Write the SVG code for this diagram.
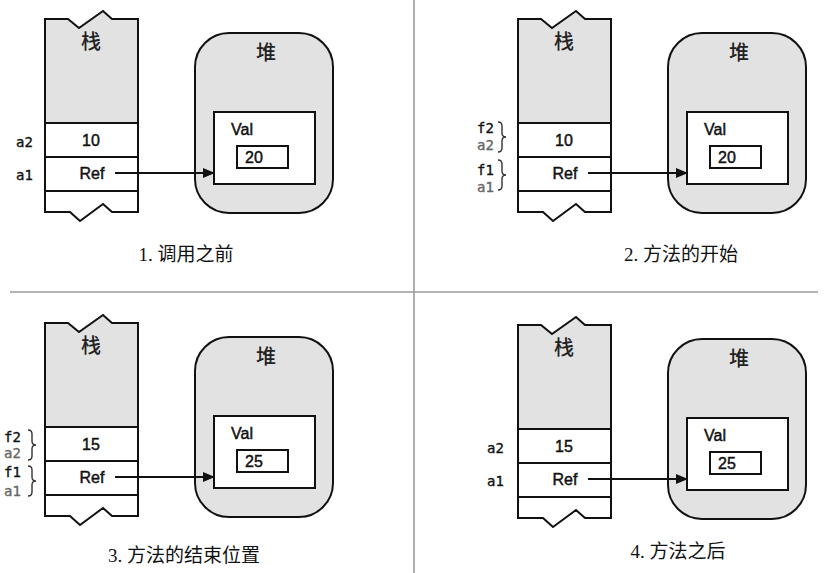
<svg xmlns="http://www.w3.org/2000/svg" xmlns:xlink="http://www.w3.org/1999/xlink" width="827" height="573" viewBox="0 0 827 573">
<style>
.ol{fill:none;stroke:#111;stroke-width:2;stroke-linejoin:miter}
.gray{fill:#e2e2e2}
.wh{fill:#fff}
.ln{stroke:#111;stroke-width:2}
.cjk{font-family:"Noto Sans CJK SC",sans-serif;font-size:20px;font-weight:500;fill:#222;text-anchor:middle}
.sans{font-family:"Liberation Sans",Arial,sans-serif;font-size:16px;fill:#111;stroke:#111;stroke-width:0.45}
.mid{text-anchor:middle}
.mono{font-family:"DejaVu Sans Mono","Liberation Mono",monospace;font-size:14px;fill:#111;stroke:#111;stroke-width:0.35}
.lite{fill:#666;stroke:#666}
.cap{font-family:"Liberation Serif","Noto Sans CJK SC",serif;font-size:19px;fill:#111;text-anchor:middle}
.brace{fill:none;stroke:#333;stroke-width:1.4}
.div{stroke:#9a9a9a;stroke-width:1.6}
.arr{stroke:#111;stroke-width:2;marker-end:url(#ah)}
</style>
<defs>
<marker id="ah" markerWidth="12" markerHeight="10" refX="11" refY="5" orient="auto" markerUnits="userSpaceOnUse">
<path d="M0,0 L12,5 L0,10 Z" fill="#111"/>
</marker>
<g id="stackShape">
<path class="gray" d="M45,19 H68 L79,28 L103,11 L112,19 H138 V123 H45 Z"/>
<path class="wh" d="M45,123 H138 V212 H112 L103,204 L80,221 L70,212 H45 Z"/>
<path class="ol" d="M45,19 H68 L79,28 L103,11 L112,19 H138 V212 H112 L103,204 L80,221 L70,212 H45 Z"/>
<line class="ln" x1="45" y1="123" x2="138" y2="123"/>
<line class="ln" x1="45" y1="157" x2="138" y2="157"/>
<line class="ln" x1="45" y1="191" x2="138" y2="191"/>
</g>
<g id="heapShape">
<rect x="195" y="33" width="138" height="180" rx="34" ry="34" class="gray" stroke="#111" stroke-width="2"/>
<rect x="214" y="112" width="101" height="72" class="wh" stroke="#111" stroke-width="2"/>
<rect x="237" y="146" width="51" height="22" class="wh" stroke="#111" stroke-width="2"/>
</g>
<path id="br" d="M0,0 q4,0 4,4 v7 q0,4 4,4 q-4,0 -4,4 v7 q0,4 -4,4"/>
</defs>

<g id="dividers">
<line class="div" x1="414" y1="0" x2="414" y2="573"/>
<line class="div" x1="10" y1="292" x2="818" y2="292"/>
</g>

<!-- Panel 1 -->
<g id="panel1">
<g id="p1-stack">
<use xlink:href="#stackShape"/>
<text class="cjk" x="91" y="49">栈</text>
<text class="sans mid" x="91" y="146">10</text>
<text class="sans mid" x="92" y="179">Ref</text>
<text class="mono" x="16" y="147">a2</text>
<text class="mono" x="16" y="180">a1</text>
</g>
<g id="p1-heap">
<use xlink:href="#heapShape"/>
<text class="cjk" x="266" y="60">堆</text>
<text class="sans" x="231" y="135">Val</text>
<text class="sans" x="245" y="163">20</text>
</g>
<text class="cap" x="186" y="261">1. 调用之前</text>
</g>

<!-- Panel 2 -->
<g id="panel2" transform="translate(473,0)">
<g id="p2-stack">
<use xlink:href="#stackShape"/>
<text class="cjk" x="91" y="49">栈</text>
<text class="sans mid" x="91" y="146">10</text>
<text class="sans mid" x="92" y="179">Ref</text>
<text class="mono" x="4" y="133">f2</text>
<text class="mono lite" x="4" y="150">a2</text>
<text class="mono" x="4" y="175">f1</text>
<text class="mono lite" x="4" y="192">a1</text>
<use xlink:href="#br" class="brace" x="25" y="122"/>
<use xlink:href="#br" class="brace" x="25" y="160"/>
</g>
<g id="p2-heap">
<use xlink:href="#heapShape"/>
<text class="cjk" x="266" y="60">堆</text>
<text class="sans" x="231" y="135">Val</text>
<text class="sans" x="245" y="163">20</text>
</g>
<text class="cap" x="208" y="261">2. 方法的开始</text>
</g>

<!-- Panel 3 -->
<g id="panel3" transform="translate(0,304)">
<g id="p3-stack">
<use xlink:href="#stackShape"/>
<text class="cjk" x="91" y="49">栈</text>
<text class="sans mid" x="91" y="146">15</text>
<text class="sans mid" x="92" y="179">Ref</text>
<text class="mono" x="4" y="138">f2</text>
<text class="mono lite" x="4" y="154">a2</text>
<text class="mono" x="4" y="173">f1</text>
<text class="mono lite" x="4" y="192">a1</text>
<use xlink:href="#br" class="brace" x="28" y="126"/>
<use xlink:href="#br" class="brace" x="28" y="162"/>
</g>
<g id="p3-heap">
<use xlink:href="#heapShape"/>
<text class="cjk" x="266" y="60">堆</text>
<text class="sans" x="231" y="135">Val</text>
<text class="sans" x="245" y="163">25</text>
</g>
<text class="cap" x="184" y="258">3. 方法的结束位置</text>
</g>

<!-- Panel 4 -->
<g id="panel4" transform="translate(473,306)">
<g id="p4-stack">
<use xlink:href="#stackShape"/>
<text class="cjk" x="91" y="49">栈</text>
<text class="sans mid" x="91" y="146">15</text>
<text class="sans mid" x="92" y="179">Ref</text>
<text class="mono" x="14" y="147">a2</text>
<text class="mono" x="14" y="180">a1</text>
</g>
<g id="p4-heap">
<use xlink:href="#heapShape"/>
<text class="cjk" x="266" y="60">堆</text>
<text class="sans" x="231" y="135">Val</text>
<text class="sans" x="245" y="163">25</text>
</g>
<text class="cap" x="205" y="252">4. 方法之后</text>
</g>

<g id="connectors">
<line class="arr" x1="115" y1="173" x2="214" y2="173"/>
<line class="arr" x1="588" y1="173" x2="687" y2="173"/>
<line class="arr" x1="115" y1="477" x2="214" y2="477"/>
<line class="arr" x1="588" y1="479" x2="687" y2="479"/>
</g>
</svg>
